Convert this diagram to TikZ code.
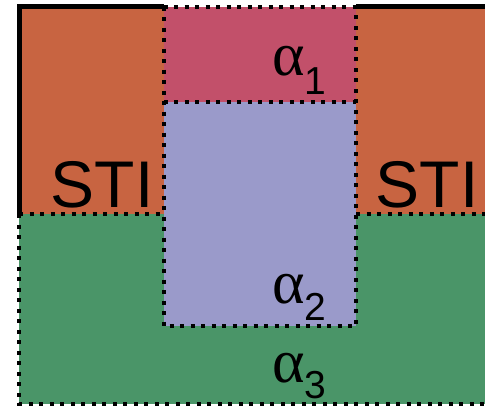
\documentclass[tikz,border=0pt]{standalone}
\usepackage{fontspec}
\setmainfont{Liberation Sans}
\newfontfamily\grk{Liberation Serif}
\definecolor{sti}{RGB}{200,100,65}
\definecolor{aone}{RGB}{194,80,106}
\definecolor{atwo}{RGB}{154,154,202}
\definecolor{athree}{RGB}{74,149,104}
\begin{document}
\begin{tikzpicture}[x=1pt,y=-1pt,
  dotb/.style={line width=4pt, dash pattern=on 4pt off 6.5pt},
  solidb/.style={line width=5pt},
  lab/.style={inner sep=0pt, anchor=base, font=\fontsize{66}{66}\selectfont},
  alab/.style={inner sep=0pt, anchor=base west}]
\useasboundingbox (0,0) rectangle (485,407);
% fills
\fill[athree] (19,214) rectangle (490,404);
\fill[sti] (19.5,6.5) rectangle (163.5,214);
\fill[sti] (356,6.5) rectangle (490,214);
\fill[aone] (163.5,6.5) rectangle (356,102);
\fill[atwo] (163.5,102) rectangle (356,326);
% borders
\draw[dotb] (19,214) -- (19,404) -- (490,404);
\draw[dotb] (19,214) -- (163.5,214);
\draw[dotb] (356,214) -- (490,214);
\draw[dotb] (163.5,6.5) -- (163.5,326) -- (356,326) -- (356,6.5);
\draw[dotb] (163.5,102) -- (356,102);
\draw[dotb] (163.5,6.5) -- (356,6.5);
\draw[solidb] (19.5,214) -- (19.5,6.5) -- (163.5,6.5);
\draw[solidb] (356,6.5) -- (490,6.5);
% labels
\node[lab] (stiL) at (102,207) {STI};
\node[lab] (stiR) at (427,207) {STI};
\node[alab] (a1) at (272,75) {\grk\fontsize{62}{62}\selectfont α\raisebox{-19pt}{\rmfamily\fontsize{39}{39}\selectfont 1}};
\node[alab] (a2) at (272,303) {\grk\fontsize{62}{62}\selectfont α\raisebox{-17pt}{\rmfamily\fontsize{39}{39}\selectfont 2}};
\node[alab] (a3) at (272,382) {\grk\fontsize{62}{62}\selectfont α\raisebox{-16pt}{\rmfamily\fontsize{39}{39}\selectfont 3}};
\end{tikzpicture}
\end{document}
